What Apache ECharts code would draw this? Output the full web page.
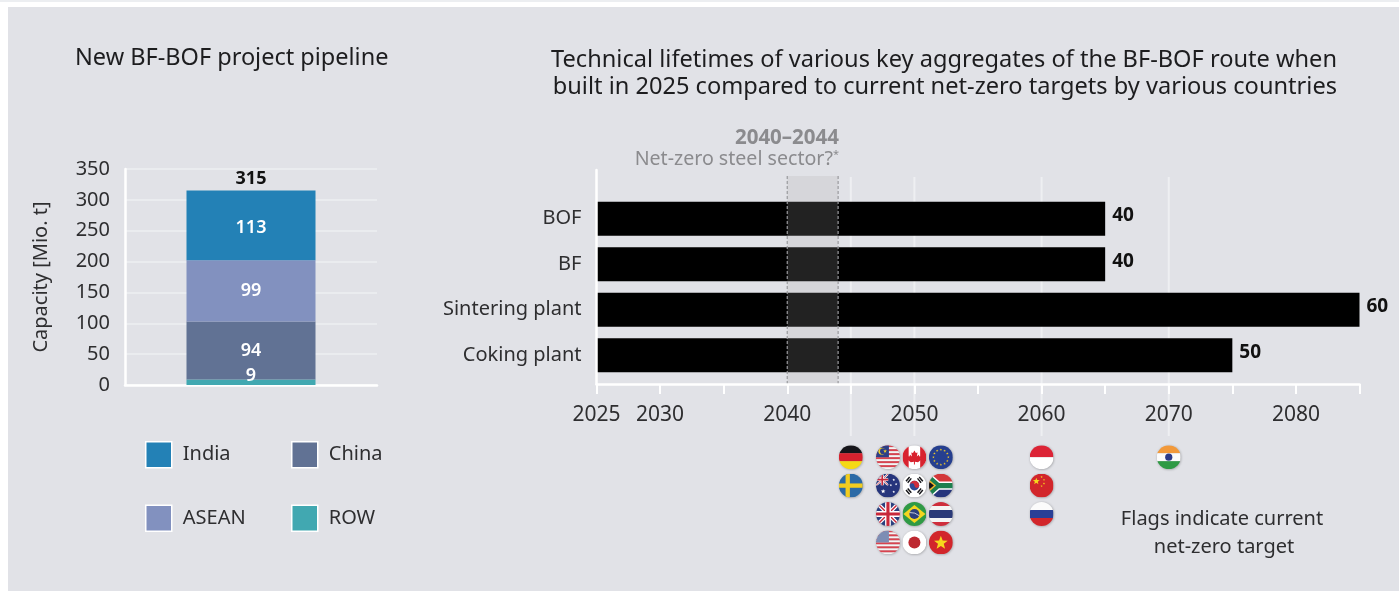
<!DOCTYPE html>
<html>
<head>
<meta charset="utf-8">
<style>
  html, body { margin: 0; padding: 0; background: #fff; width: 1399px; height: 591px; overflow: hidden; }
  #panel { position: absolute; left: 8px; top: 7px; right: 0; bottom: 0; background: #e1e2e7; }
  #strip { position: absolute; left: 0; top: 0; right: 0; height: 2px; background: #eceef1; }
  #chart { position: absolute; left: 0; top: 0; width: 1399px; height: 591px; }
</style>
<script src="https://cdn.jsdelivr.net/npm/echarts@6/dist/echarts.min.js"></script>
</head>
<body>
<div id="strip"></div>
<div id="panel"></div>
<div id="chart"></div>
<script>
// Pipeline capacity by region, bottom of the stack first
const regions = ['ROW', 'China', 'ASEAN', 'India'];
const capacity = [9, 94, 99, 113];
const capacityTotal = 315;
const capacityTicks = [0, 50, 100, 150, 200, 250, 300, 350];

// Technical lifetimes of the aggregates, built in 2025
const aggregates = ['BOF', 'BF', 'Sintering plant', 'Coking plant'];
const lifetimes = [40, 40, 60, 50];
const buildYear = 2025;
const lastYear = 2085;
const labelledYears = [2025, 2030, 2040, 2050, 2060, 2070, 2080];
const gridYears = [2045, 2050, 2060, 2070];
const netZeroSteelWindow = [2040, 2044];

// Countries by their current net-zero target
const targetYears = [2045, 2050, 2060, 2070];
const targetCountries = [
  ['germany', 'sweden'],
  ['malaysia', 'canada', 'eu', 'australia', 'korea', 'southafrica', 'uk', 'brazil', 'thailand', 'usa', 'japan', 'vietnam'],
  ['indonesia', 'china', 'russia'],
  ['india']
];

const FONT = '"Noto Sans", sans-serif';
const INK = '#2e2e30';
const regionColors = { India: '#2381b6', ASEAN: '#8291bf', China: '#617294', ROW: '#41a8b1' };

// Round flag artwork, each one clipped to a disc
const stripes = (n, a, b) => {
  let s = '';
  for (let i = 0; i < n; i++) s += `<rect y="${i * 100 / n}" width="100" height="${100 / n + 0.5}" fill="${i % 2 ? b : a}"/>`;
  return s;
};
const bands = (list) => {
  const h = 100 / list.length;
  return list.map((c, i) => `<rect y="${i * h}" width="100" height="${h + 0.5}" fill="${c}"/>`).join('');
};
const star = (cx, cy, r, fill) => {
  let p = [];
  for (let i = 0; i < 10; i++) {
    const rad = i % 2 ? r * 0.42 : r;
    const a = -Math.PI / 2 + i * Math.PI / 5;
    p.push((cx + rad * Math.cos(a)).toFixed(1) + ',' + (cy + rad * Math.sin(a)).toFixed(1));
  }
  return `<polygon points="${p.join(' ')}" fill="${fill}"/>`;
};
const unionJack = '<rect width="100" height="100" fill="#2a3f7e"/>' +
  '<path d="M0 0L100 100M100 0L0 100" stroke="#fff" stroke-width="16"/>' +
  '<path d="M0 0L100 100M100 0L0 100" stroke="#c8283a" stroke-width="6"/>' +
  '<path d="M50 0V100M0 50H100" stroke="#fff" stroke-width="24"/>' +
  '<path d="M50 0V100M0 50H100" stroke="#c8283a" stroke-width="13"/>';
const euStars = () => {
  let s = '';
  for (let i = 0; i < 12; i++) {
    const a = i * Math.PI / 6;
    s += star(50 + 31 * Math.cos(a), 50 + 31 * Math.sin(a), 5.5, '#e9c62b');
  }
  return s;
};
const flagArt = {
  germany: bands(['#15151a', '#d6222e', '#f5d916']),
  sweden: '<rect width="100" height="100" fill="#2b6aa6"/><rect x="28" width="18" height="100" fill="#f2cc1f"/><rect y="41" width="100" height="18" fill="#f2cc1f"/>',
  malaysia: stripes(12, '#d9434f', '#f4f4f4') + '<rect width="54" height="50" fill="#2d3f86"/><circle cx="24" cy="25" r="14" fill="#f1cf2a"/><circle cx="29" cy="25" r="12" fill="#2d3f86"/>' + star(38, 25, 8, '#f1cf2a'),
  canada: '<rect width="100" height="100" fill="#fff"/><rect width="26" height="100" fill="#d8232f"/><rect x="74" width="26" height="100" fill="#d8232f"/>' +
    '<path d="M50 22L56 33L63 30L60 47L68 40L71 47L80 46L76 56L80 60L65 71L52 69V80H48V69L35 71L20 60L24 56L20 46L29 47L32 40L40 47L37 30L44 33Z" fill="#d8232f"/>',
  eu: '<rect width="100" height="100" fill="#263f8f"/>' + euStars(),
  australia: '<rect width="100" height="100" fill="#26357c"/><svg width="52" height="50" viewBox="0 0 100 100" preserveAspectRatio="none">' + unionJack + '</svg>' +
    star(30, 74, 10, '#fff') + star(74, 26, 6, '#fff') + star(62, 48, 6, '#fff') + star(84, 44, 6, '#fff') + star(74, 76, 6, '#fff'),
  korea: '<rect width="100" height="100" fill="#fff"/><circle cx="50" cy="50" r="20" fill="#2f4a96"/><path d="M30 50A20 20 0 0 1 70 50A10 10 0 0 1 50 50A10 10 0 0 0 30 50Z" fill="#cf2e3c"/>' +
    '<path d="M15 32L30 14M22 38L37 20M63 20L78 38M70 14L85 32M15 68L30 86M22 62L37 80M63 80L78 62M70 86L85 68" stroke="#17171b" stroke-width="6"/>',
  southafrica: '<rect width="100" height="50" fill="#d3383a"/><rect y="50" width="100" height="50" fill="#26357c"/>' +
    '<path d="M0 16L38 50L0 84M38 50H100" fill="none" stroke="#fff" stroke-width="34"/><path d="M0 16L38 50L0 84M38 50H100" fill="none" stroke="#1d7f4e" stroke-width="22"/>' +
    '<path d="M0 24L30 50L0 76Z" fill="#f2b62b"/><path d="M0 32L21 50L0 68Z" fill="#15151a"/>',
  uk: unionJack,
  brazil: '<rect width="100" height="100" fill="#2f9a45"/><path d="M50 12L96 50L50 88L4 50Z" fill="#f4d61e"/><circle cx="50" cy="50" r="21" fill="#2a3f7e"/><path d="M30 44Q52 42 70 57" fill="none" stroke="#fff" stroke-width="3"/>',
  thailand: bands(['#cf2e3c', '#f4f4f4', '#2b3a78', '#2b3a78', '#f4f4f4', '#cf2e3c']),
  usa: stripes(12, '#d9434f', '#f4f4f4') + '<rect width="54" height="50" fill="#7d8db4"/>',
  japan: '<rect width="100" height="100" fill="#fff"/><circle cx="50" cy="50" r="25" fill="#bd2830"/>',
  vietnam: '<rect width="100" height="100" fill="#d2262b"/>' + star(50, 52, 30, '#f6d81d'),
  indonesia: '<rect width="100" height="50" fill="#dc2436"/><rect y="50" width="100" height="50" fill="#fff"/>',
  china: '<rect width="100" height="100" fill="#d2262b"/>' + star(28, 32, 15, '#f6d81d') + star(50, 14, 5, '#f6d81d') + star(60, 26, 5, '#f6d81d') + star(60, 41, 5, '#f6d81d') + star(50, 52, 5, '#f6d81d'),
  russia: bands(['#fbfbfb', '#2a3f96', '#d2262b']),
  india: bands(['#f2993a', '#fbfbfb', '#2f9a45']) + '<circle cx="50" cy="50" r="15" fill="#2b3a88"/>'
};
const flagSymbol = (name) => {
  const svg = `<svg xmlns="http://www.w3.org/2000/svg" width="96" height="96" viewBox="0 0 100 100"><defs><clipPath id="d"><circle cx="50" cy="50" r="50"/></clipPath></defs><g clip-path="url(#d)">${flagArt[name]}</g></svg>`;
  return 'image://data:image/svg+xml;charset=utf-8,' + encodeURIComponent(svg);
};

// Groups with more than three flags are set in three columns around their year
const columnStep = 2.08;
const flagData = [];
targetCountries.forEach((names, g) => {
  const cols = names.length > 3 ? 3 : 1;
  names.forEach((name, i) => {
    const col = i % cols;
    const row = Math.floor(i / cols);
    flagData.push({
      name,
      value: [targetYears[g] + (col - (cols - 1) / 2) * columnStep, row + 0.5],
      symbol: flagSymbol(name)
    });
  });
});

const axisWhite = { color: '#fff', width: 2.5 };

const stackSeries = regions.map((name, i) => ({
  name,
  type: 'bar',
  stack: 'pipeline',
  xAxisIndex: 0,
  yAxisIndex: 0,
  barWidth: 129,
  data: [capacity[i]],
  itemStyle: { color: regionColors[name] },
  z: 2,
  label: {
    show: true,
    position: 'inside',
    offset: name === 'ROW' ? [0, -6] : (name === 'India' ? [0, 2] : [0, 0]),
    color: '#fff',
    fontFamily: FONT,
    fontSize: 18,
    fontWeight: 600
  }
}));

const legendBase = {
  orient: 'vertical', top: 441, padding: 0, selectedMode: false,
  itemWidth: 26, itemHeight: 26, itemGap: 36, icon: 'rect',
  itemStyle: { borderColor: '#fff', borderWidth: 1.5 },
  textStyle: { fontFamily: FONT, fontSize: 20, color: INK, padding: [0, 0, 0, 6] }
};

const option = {
  animation: false,
  textStyle: { fontFamily: FONT },
  title: [
    { text: 'New BF-BOF project pipeline', left: 75, top: 46, padding: 0,
      textStyle: { fontFamily: FONT, fontSize: 23.5, fontWeight: 400, color: '#1d1d1f' } },
    { text: 'Technical lifetimes of various key aggregates of the BF-BOF route when\nbuilt in 2025 compared to current net-zero targets by various countries',
      left: 1337, top: 47, padding: 0, textAlign: 'right',
      textStyle: { fontFamily: FONT, fontSize: 23.6, fontWeight: 400, lineHeight: 27, color: '#1d1d1f' } }
  ],
  legend: [
    { ...legendBase, left: 145, data: ['India', 'ASEAN'] },
    { ...legendBase, left: 291, data: ['China', 'ROW'] }
  ],
  grid: [
    { left: 125, top: 169, width: 252, height: 216 },   // stacked capacity column
    { left: 596.5, top: 196, width: 763, height: 182 }, // lifetime bars
    { left: 596.5, top: 170, width: 763, height: 214 }, // year axis, reference lines, window
    { left: 596.5, top: 443, width: 763, height: 113.6 } // flag rows
  ],
  xAxis: [
    { type: 'category', gridIndex: 0, data: ['Pipeline'],
      axisLine: { lineStyle: axisWhite }, axisTick: { show: false }, axisLabel: { show: false } },
    { type: 'value', gridIndex: 1, min: buildYear, max: lastYear, show: false },
    { type: 'value', gridIndex: 2, min: buildYear, max: lastYear, interval: 5, position: 'bottom', z: 10,
      axisLine: { onZero: false, lineStyle: axisWhite },
      axisTick: { length: 10, lineStyle: { color: '#fff', width: 2 } },
      splitLine: { show: false },
      axisLabel: {
        color: INK, fontFamily: FONT, fontSize: 21, margin: 21,
        hideOverlap: false, showMinLabel: true, showMaxLabel: true,
        formatter: (v) => (labelledYears.includes(v) ? String(v) : '')
      } },
    { type: 'value', gridIndex: 3, min: buildYear, max: lastYear, show: false }
  ],
  yAxis: [
    { type: 'value', gridIndex: 0, min: 0, max: 350, interval: 50,
      name: 'Capacity [Mio. t]', nameLocation: 'middle', nameGap: 74, nameRotate: 90,
      nameTextStyle: { color: INK, fontFamily: FONT, fontSize: 20 },
      axisLine: { show: true, lineStyle: axisWhite }, axisTick: { show: false },
      splitLine: { lineStyle: { color: '#eaecef', width: 2 } },
      axisLabel: { color: INK, fontFamily: FONT, fontSize: 20, margin: 15,
        formatter: (v) => (capacityTicks.includes(v) ? String(v) : '') } },
    { type: 'category', gridIndex: 1, inverse: true, data: aggregates,
      axisLine: { show: false }, axisTick: { show: false },
      axisLabel: { color: INK, fontFamily: FONT, fontSize: 20, margin: 15 } },
    { type: 'value', gridIndex: 2, min: 0, max: 1, position: 'left', z: 10,
      axisLine: { show: true, onZero: false, lineStyle: axisWhite }, axisTick: { show: false },
      axisLabel: { show: false }, splitLine: { show: false } },
    { type: 'value', gridIndex: 3, min: 0, max: 4, inverse: true, show: false }
  ],
  series: [
    ...stackSeries,
    // Empty segment that carries the column total above the stack
    { name: 'Total', type: 'bar', stack: 'pipeline', xAxisIndex: 0, yAxisIndex: 0, barWidth: 129,
      data: [0], itemStyle: { color: 'transparent' }, z: 3,
      label: { show: true, position: 'top', distance: 3, formatter: String(capacityTotal),
        color: '#111', fontFamily: FONT, fontSize: 18, fontWeight: 700 } },

    // Vertical reference lines run from above the bars down through the year labels
    { type: 'custom', xAxisIndex: 2, yAxisIndex: 2, z: 1, clip: false, silent: true,
      data: gridYears.map((y) => [y]),
      renderItem: (params, api) => {
        const x = api.coord([api.value(0), 0])[0];
        const top = api.coord([api.value(0), 1])[1] + 7;
        const bottom = api.coord([api.value(0), 0])[1] + 52;
        return { type: 'line', shape: { x1: x, y1: top, x2: x, y2: bottom },
          style: { stroke: '#eeeff2', lineWidth: 2 } };
      } },

    // Lifetime bars, ending at build year + lifetime
    { name: 'Lifetime', type: 'bar', xAxisIndex: 1, yAxisIndex: 1, barWidth: 34, z: 4,
      data: lifetimes.map((l) => buildYear + l),
      itemStyle: { color: '#000' },
      label: { show: true, position: 'right', distance: 7, offset: [0, -3],
        formatter: (p) => String(lifetimes[p.dataIndex]),
        color: '#111', fontFamily: FONT, fontSize: 19, fontWeight: 700 } },

    // Possible net-zero window for the steel sector, laid over the bars
    { type: 'custom', xAxisIndex: 2, yAxisIndex: 2, z: 6, clip: false, silent: true,
      data: [netZeroSteelWindow],
      renderItem: (params, api) => {
        const a = api.coord([api.value(0), 0]);
        const b = api.coord([api.value(1), 1]);
        const top = b[1] + 6;
        const dash = { stroke: '#9a9a9e', lineWidth: 1.2, lineDash: [3, 2] };
        return { type: 'group', children: [
          { type: 'rect', shape: { x: a[0], y: top, width: b[0] - a[0], height: a[1] - top },
            style: { fill: 'rgba(171,171,171,0.2)' } },
          { type: 'line', shape: { x1: a[0], y1: top, x2: a[0], y2: a[1] }, style: dash },
          { type: 'line', shape: { x1: b[0], y1: top, x2: b[0], y2: a[1] }, style: dash }
        ] };
      } },

    // Flags placed at the year of each country's net-zero target
    { name: 'Targets', type: 'scatter', xAxisIndex: 3, yAxisIndex: 3, z: 5, silent: true,
      symbolSize: 24, data: flagData,
      itemStyle: { opacity: 1, shadowBlur: 2, shadowColor: 'rgba(0,0,0,0.3)', shadowOffsetX: 0.5, shadowOffsetY: 0.5 } }
  ],
  graphic: [
    { type: 'text', x: 839, y: 138, style: { text: '2040–2044', align: 'right', verticalAlign: 'middle',
        fontFamily: FONT, fontSize: 20.5, fontWeight: 700, fill: '#8b8b8e' } },
    { type: 'text', x: 839, y: 159, style: {
        text: '{a|Net-zero steel sector?}{b|*}', align: 'right', verticalAlign: 'middle',
        rich: {
          a: { fontFamily: FONT, fontSize: 19.6, fill: '#8b8b8e', color: '#8b8b8e' },
          b: { fontFamily: FONT, fontSize: 11, fill: '#8b8b8e', color: '#8b8b8e', verticalAlign: 'top' }
        } } },
    { type: 'text', x: 1222, y: 519, style: { text: 'Flags indicate current', align: 'center', verticalAlign: 'middle',
        fontFamily: FONT, fontSize: 20, fill: INK } },
    { type: 'text', x: 1224, y: 547, style: { text: 'net-zero target', align: 'center', verticalAlign: 'middle',
        fontFamily: FONT, fontSize: 20, fill: INK } }
  ]
};

echarts.init(document.getElementById('chart')).setOption(option);
</script>
</body>
</html>
